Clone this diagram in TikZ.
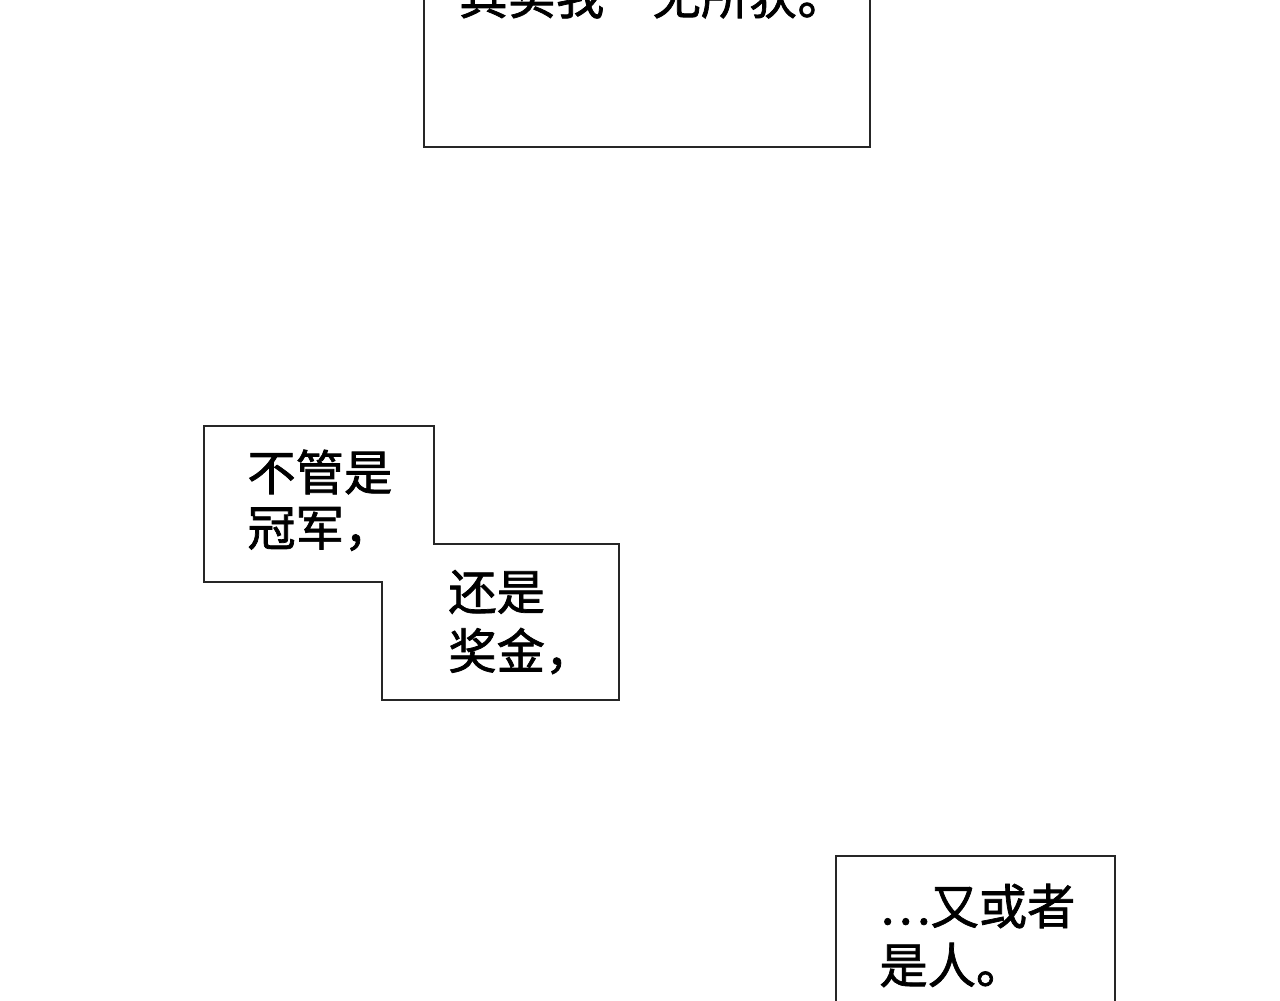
\documentclass[tikz,border=0pt]{standalone}
\usepackage{fontspec}
\newfontfamily\cjk[FakeBold=1.5]{Noto Sans CJK SC}
\begin{document}
\begin{tikzpicture}[x=0.02cm,y=-0.02cm,
  box/.style={draw=black!85,line width=1.5pt,fill=white},
  txt/.style={font=\cjk\fontsize{27.5}{32}\selectfont,anchor=west,inner sep=0pt}]
\useasboundingbox (0,0) rectangle (1280,1000);
\draw[box] (424,-10) rectangle (870,147);
\draw[box] (204,426) -- (434,426) -- (434,544) -- (619,544) -- (619,700) -- (382,700) -- (382,582) -- (204,582) -- cycle;
\draw[box] (836,1010) -- (836,856) -- (1115,856) -- (1115,1010);
\node[txt] (t0) at (459,-4) {其实我一无所获。};
\node[txt] (t1) at (247,472) {不管是};
\node[txt] (t2) at (247,529) {冠军，};
\node[txt] (t3) at (448,592) {还是};
\node[txt] (t4) at (448,651) {奖金，};
\node[txt] (t5) at (879,906) {…又或者};
\node[txt] (t6) at (879,965) {是人。};
\end{tikzpicture}
\end{document}
